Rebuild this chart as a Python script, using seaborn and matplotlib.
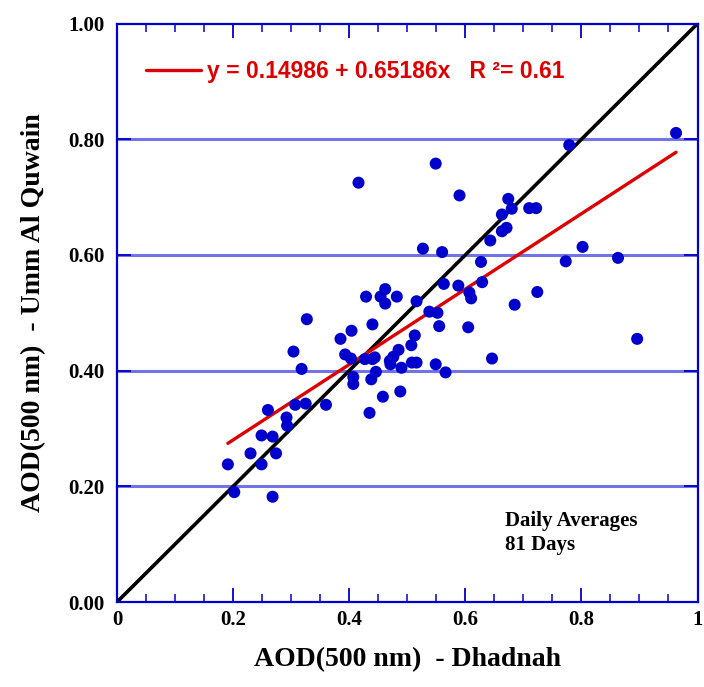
import numpy as np
import pandas as pd
import seaborn as sns
import matplotlib
matplotlib.use("Agg")
import matplotlib.pyplot as plt
from matplotlib.ticker import FixedLocator, MultipleLocator

# ---- data ----
x_dhadnah = [0.416, 0.327, 0.304, 0.318, 0.429, 0.462, 0.454, 0.462, 0.482, 0.404,
             0.440, 0.385, 0.393, 0.403, 0.427, 0.440, 0.485, 0.476, 0.471, 0.490,
             0.507, 0.407, 0.446, 0.438, 0.260, 0.292, 0.293, 0.307, 0.325, 0.360,
             0.249, 0.268, 0.230, 0.274, 0.191, 0.249, 0.202, 0.268, 0.407, 0.458,
             0.435, 0.488, 0.963, 0.779, 0.549, 0.590, 0.674, 0.663, 0.680, 0.710,
             0.722, 0.671, 0.663, 0.643, 0.527, 0.560, 0.627, 0.802, 0.773, 0.863,
             0.563, 0.588, 0.629, 0.607, 0.610, 0.724, 0.685, 0.516, 0.538, 0.552,
             0.555, 0.605, 0.513, 0.896, 0.646, 0.508, 0.549, 0.566, 0.516, 0.444,
             0.470]
y_umm = [0.725, 0.489, 0.433, 0.403, 0.528, 0.541, 0.528, 0.516, 0.528, 0.469,
         0.480, 0.455, 0.428, 0.421, 0.420, 0.420, 0.436, 0.424, 0.411, 0.405,
         0.444, 0.389, 0.398, 0.385, 0.332, 0.319, 0.305, 0.341, 0.343, 0.341,
         0.288, 0.286, 0.257, 0.257, 0.238, 0.238, 0.190, 0.182, 0.377, 0.355,
         0.327, 0.364, 0.811, 0.790, 0.758, 0.703, 0.697, 0.670, 0.680, 0.681,
         0.681, 0.647, 0.641, 0.625, 0.611, 0.605, 0.588, 0.614, 0.589, 0.595,
         0.550, 0.547, 0.553, 0.535, 0.525, 0.536, 0.514, 0.520, 0.502, 0.500,
         0.477, 0.475, 0.461, 0.455, 0.421, 0.414, 0.411, 0.397, 0.414, 0.423,
         0.417]
fit_intercept = 0.14986
fit_slope = 0.65186
r_squared = 0.61
x_ticks = [0.0, 0.2, 0.4, 0.6, 0.8, 1.0]
x_tick_labels = ["0", "0.2", "0.4", "0.6", "0.8", "1"]
y_ticks = [0.0, 0.2, 0.4, 0.6, 0.8, 1.0]
y_tick_labels = ["0.00", "0.20", "0.40", "0.60", "0.80", "1.00"]
x_label = "AOD(500 nm)  - Dhadnah"
y_label = "AOD(500 nm)  - Umm Al Quwain"
note_text = "Daily Averages\n81 Days"

df = pd.DataFrame({"x": x_dhadnah, "y": y_umm})

sns.set_theme(style="white")
plt.rcParams["font.family"] = ["Liberation Serif", "DejaVu Serif"]

fig = plt.figure(figsize=(7.04, 6.87), dpi=100)
ax = fig.add_axes([0.1662, 0.1237, 0.8246, 0.8419])

blue = "#0000cc"
grid_blue = "#7373e6"

# horizontal grid lines
for yv in y_ticks[1:-1]:
    ax.axhline(yv, color=grid_blue, lw=2.2, zorder=0)

# 1:1 line
one_to_one = pd.DataFrame({"x": [x_ticks[0], x_ticks[-1]], "y": [y_ticks[0], y_ticks[-1]]})
sns.lineplot(data=one_to_one, x="x", y="y", color="black", lw=2.6, ax=ax, zorder=2)

# regression line
xs = np.array([min(x_dhadnah), max(x_dhadnah)])
fit_df = pd.DataFrame({"x": xs, "y": fit_intercept + fit_slope * xs})
fit_label = f"y = {fit_intercept:.5f} + {fit_slope:.5f}x   R \u00b2= {r_squared:.2f}"
sns.lineplot(data=fit_df, x="x", y="y", color="#dd0000", lw=2.4, ax=ax,
             label=fit_label, zorder=2)

# points
sns.scatterplot(data=df, x="x", y="y", color=blue, s=75, edgecolor="none",
                ax=ax, zorder=3, legend=False)

ax.set_xlim(0, 1)
ax.set_ylim(0, 1)

ax.xaxis.set_major_locator(FixedLocator(x_ticks))
ax.set_xticklabels(x_tick_labels)
ax.xaxis.set_minor_locator(MultipleLocator(0.05))
ax.yaxis.set_major_locator(FixedLocator(y_ticks))
ax.set_yticklabels(y_tick_labels)

ax.tick_params(axis="both", which="major", direction="in", length=10, width=1.3,
               color=blue, top=True, right=True, bottom=True, left=True,
               labelsize=15, pad=9)
ax.tick_params(axis="x", which="minor", direction="in", length=6, width=1.1,
               color=blue, top=True, bottom=True)
for lab in ax.get_xticklabels() + ax.get_yticklabels():
    lab.set_fontweight("bold")
    lab.set_color("black")
ax.tick_params(axis="x", pad=6)

for sp in ax.spines.values():
    sp.set_color(blue)
    sp.set_linewidth(1.6)
    sp.set_visible(True)

ax.set_xlabel(x_label, fontsize=20, fontweight="bold", labelpad=12, color="black")
ax.set_ylabel(y_label, fontsize=20, fontweight="bold", labelpad=16, color="black")

leg = ax.legend(loc="center left", bbox_to_anchor=(0.05, 0.918), frameon=False,
                borderaxespad=0, borderpad=0, handlelength=2.4, handletextpad=0.25,
                prop={"family": ["Liberation Sans", "DejaVu Sans"], "weight": "bold", "size": 16.5})
for t in leg.get_texts():
    t.set_color("#dd0000")

ax.text(0.668, 0.157, note_text, transform=ax.transAxes, ha="left", va="top",
        fontsize=15, fontweight="bold", color="black", linespacing=1.25)

fig.savefig("out.png", dpi=100)
